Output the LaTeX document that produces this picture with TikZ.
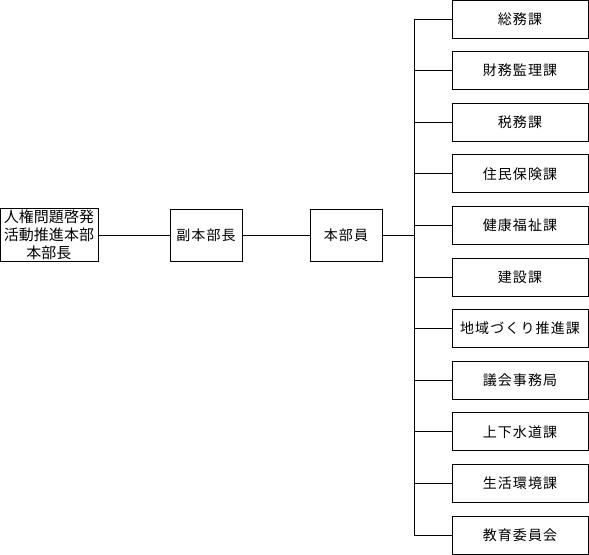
\documentclass[tikz,border=0pt]{standalone}
\usepackage{fontspec}
\newfontfamily\jp{Noto Sans CJK JP}
\newfontfamily\jpsp[LetterSpace=8]{Noto Sans CJK JP}
\begin{document}
\begin{tikzpicture}[x=1bp,y=-1bp,
  box/.style={draw,line width=0.8bp,inner sep=0pt,align=center,font=\jpsp\fontsize{14bp}{18bp}\selectfont},
  ln/.style={line width=0.8bp}]
\useasboundingbox (0,0) rectangle (589,555);
\node[box,minimum width=98bp,minimum height=53bp,font=\jp\fontsize{15bp}{18bp}\selectfont] (top) at (49,235) {人権問題啓発\\活動推進本部\\本部長};
\node[box,minimum width=72bp,minimum height=52bp] (vice) at (206,235) {副本部長};
\node[box,minimum width=72bp,minimum height=52bp] (mem) at (346,235) {本部員};
\coordinate (j) at (414,235);
\foreach \i/\t in {0/総務課,1/財務監理課,2/税務課,3/住民保険課,4/健康福祉課,5/建設課,6/地域づくり推進課,7/議会事務局,8/上下水道課,9/生活環境課,10/教育委員会}{
  \node[box,minimum width=136bp,minimum height=38bp] (d\i) at (520,19+51.6*\i) {\t};
  \draw[ln] (d\i.west) -- (d\i.west -| j);
}
\draw[ln] (top) -- (vice);
\draw[ln] (vice) -- (mem);
\draw[ln] (mem) -- (j);
\draw[ln] (d0.west -| j) -- (d10.west -| j);
\end{tikzpicture}
\end{document}
